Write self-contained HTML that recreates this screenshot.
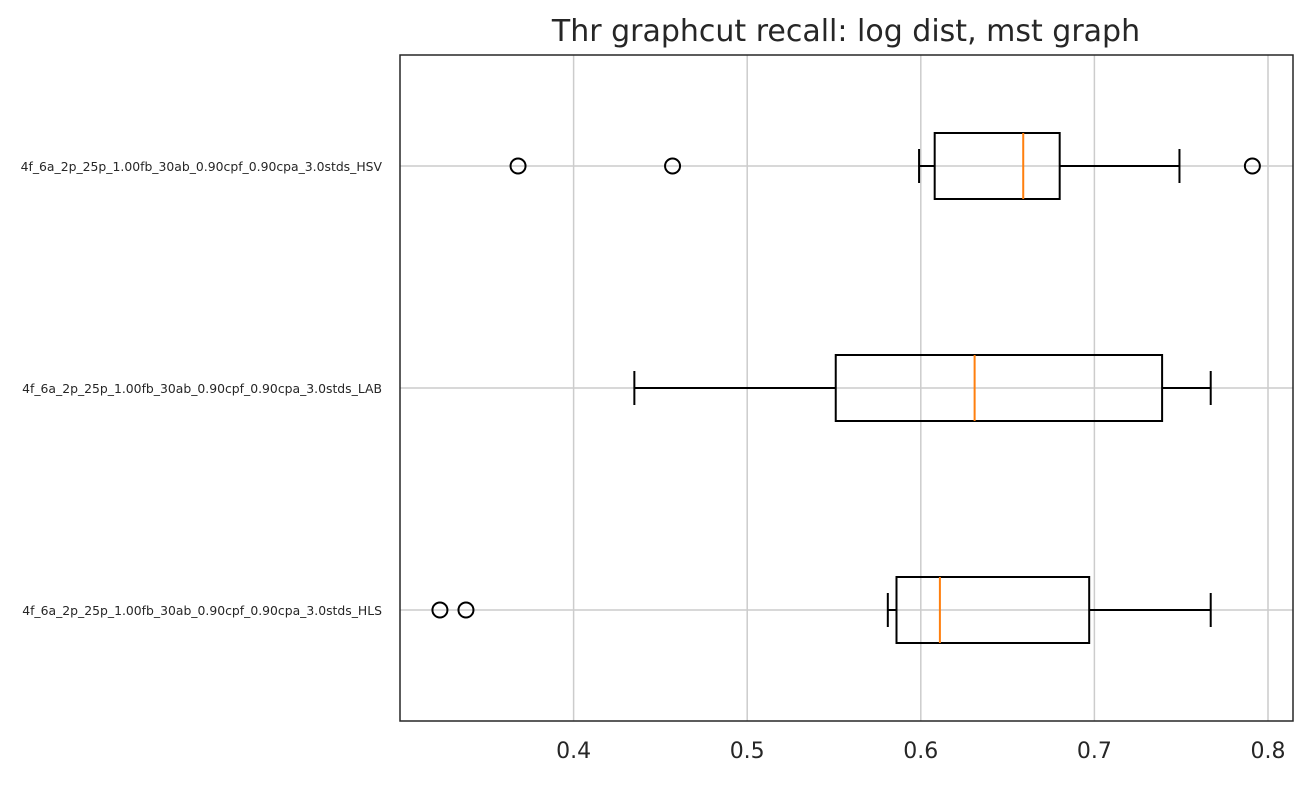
<!DOCTYPE html>
<html><head><meta charset="utf-8"><style>
body{margin:0;background:#fff;font-family:"Liberation Sans","DejaVu Sans",sans-serif;}
</style></head><body>
<svg id="chart" width="1311" height="780" xmlns="http://www.w3.org/2000/svg">
<text x="846" y="41" text-anchor="middle" font-size="30" fill="#262626" font-family="DejaVu Sans, Liberation Sans, sans-serif">Thr graphcut recall: log dist, mst graph</text>
<g id="grid"></g><g id="boxes"></g><g id="axes"></g>
</svg>
<script>
const categories=["4f_6a_2p_25p_1.00fb_30ab_0.90cpf_0.90cpa_3.0stds_HSV","4f_6a_2p_25p_1.00fb_30ab_0.90cpf_0.90cpa_3.0stds_LAB","4f_6a_2p_25p_1.00fb_30ab_0.90cpf_0.90cpa_3.0stds_HLS"];
const whiskerLow=[0.599,0.435,0.581];
const q1=[0.608,0.551,0.586];
const median=[0.659,0.631,0.611];
const q3=[0.680,0.739,0.697];
const whiskerHigh=[0.749,0.767,0.767];
const outliers=[[0.368,0.457,0.791],[],[0.323,0.338]];
const xTicks=[0.4,0.5,0.6,0.7,0.8];
const xTickLabels=["0.4","0.5","0.6","0.7","0.8"];

const L=400,R=1293,T=55,B=721,xmin=0.3,xmax=0.8144;
const X=v=>L+(v-xmin)/(xmax-xmin)*(R-L);
const Y=i=>166+i*222;
const NS="http://www.w3.org/2000/svg";
function mk(parent,tag,attrs){const e=document.createElementNS(NS,tag);for(const k in attrs)e.setAttribute(k,attrs[k]);document.getElementById(parent).appendChild(e);return e;}
xTicks.forEach((t,i)=>{
 const g=mk('grid','line',{x1:X(t),x2:X(t),y1:T,y2:B,stroke:'#cccccc','stroke-width':1.5});
 
 
 const tx=mk('axes','text',{x:X(t),y:758,'text-anchor':'middle','font-size':22,fill:'#262626','font-family':'DejaVu Sans, Liberation Sans, sans-serif'});
 tx.textContent=xTickLabels[i];
 
 
});
categories.forEach((c,i)=>{
 const y=Y(i);
 const g=mk('grid','line',{x1:L,x2:R,y1:y,y2:y,stroke:'#cccccc','stroke-width':1.5});
 
 
 const tx=mk('axes','text',{x:382,y:y+5,'text-anchor':'end','font-size':12.4,fill:'#262626','font-family':'DejaVu Sans, Liberation Sans, sans-serif'});
 tx.textContent=c;
 
 
 const s={stroke:'#000','stroke-width':2,fill:'none'};
 const w1=mk('boxes','line',Object.assign({x1:X(whiskerLow[i]),x2:X(q1[i]),y1:y,y2:y},s));
 
 
 const w2=mk('boxes','line',Object.assign({x1:X(q3[i]),x2:X(whiskerHigh[i]),y1:y,y2:y},s));
 
 
 const c1=mk('boxes','line',Object.assign({x1:X(whiskerLow[i]),x2:X(whiskerLow[i]),y1:y-17,y2:y+17},s));
 
 
 const c2=mk('boxes','line',Object.assign({x1:X(whiskerHigh[i]),x2:X(whiskerHigh[i]),y1:y-17,y2:y+17},s));
 
 
 const b=mk('boxes','rect',Object.assign({x:X(q1[i]),y:y-33,width:X(q3[i])-X(q1[i]),height:66},s));
 
 
 const m=mk('boxes','line',{x1:X(median[i]),x2:X(median[i]),y1:y-33,y2:y+33,stroke:'#ff7f0e','stroke-width':2});
 
 
 outliers[i].forEach(o=>{
  const p=mk('boxes','circle',{cx:X(o),cy:y,r:7.5,stroke:'#000','stroke-width':2,fill:'none'});
  
  
 });
});
const fr=mk('axes','rect',{x:L,y:T,width:R-L,height:B-T,fill:'none',stroke:'#262626','stroke-width':1.5});


</script>
</body></html>
